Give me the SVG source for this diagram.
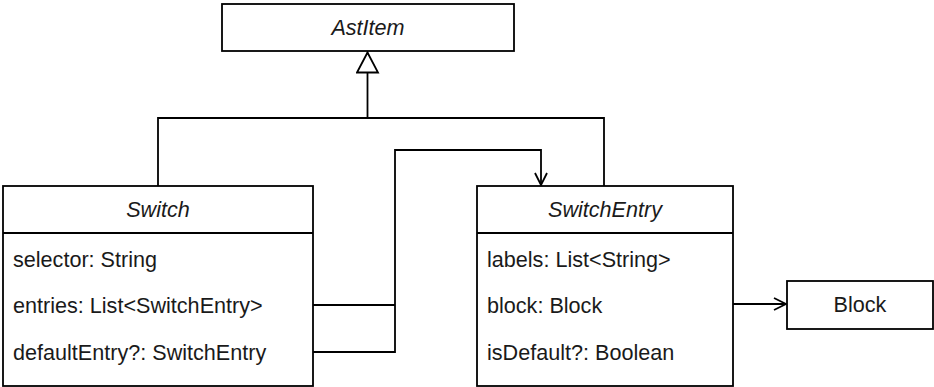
<svg xmlns="http://www.w3.org/2000/svg" width="934" height="387" viewBox="0 0 934 387">
  <style>
    .box { fill: #ffffff; stroke: #000000; stroke-width: 1.8; }
    .sep { stroke: #000000; stroke-width: 1.8; }
    .edge { fill: none; stroke: #000000; stroke-width: 1.8; }
    .title { font-family: "Liberation Sans", Arial, sans-serif; font-size: 21.6px; font-style: italic; fill: #1a1a1a; text-anchor: middle; }
    .attr { font-family: "Liberation Sans", Arial, sans-serif; font-size: 21.6px; fill: #1a1a1a; }
    .plain { font-family: "Liberation Sans", Arial, sans-serif; font-size: 21.6px; fill: #1a1a1a; text-anchor: middle; }
  </style>
  <defs>
    <marker id="inherit" viewBox="0 0 24 24" markerWidth="24" markerHeight="24" refX="21" refY="12" orient="auto" markerUnits="userSpaceOnUse">
      <path d="M1,1.5 L21,12 L1,22.5 Z" fill="#ffffff" stroke="#000000" stroke-width="1.8"/>
    </marker>
    <marker id="open" viewBox="0 0 16 16" markerWidth="16" markerHeight="16" refX="14" refY="8" orient="auto" markerUnits="userSpaceOnUse">
      <path d="M2,2 L14,8 L2,14" fill="none" stroke="#000000" stroke-width="1.8"/>
    </marker>
  </defs>

  <g id="connectors">
    <!-- generalisation: Switch and SwitchEntry extend AstItem -->
    <path class="edge" d="M158,186 V118 H604 V186"/>
    <path class="edge" d="M367.5,118 V52.5" marker-end="url(#inherit)"/>
    <!-- Switch.entries / Switch.defaultEntry reference SwitchEntry -->
    <path class="edge" d="M313,305 H395"/>
    <path class="edge" d="M313,352 H395 V150 H541 V185" marker-end="url(#open)"/>
    <!-- SwitchEntry.block references Block -->
    <path class="edge" d="M733,304 H786" marker-end="url(#open)"/>
  </g>

  <g id="AstItem">
    <rect class="box" x="222" y="4" width="292" height="47"/>
    <text class="title" x="368" y="35">AstItem</text>
  </g>

  <g id="Switch">
    <rect class="box" x="3" y="186" width="310" height="200"/>
    <line class="sep" x1="3" y1="233" x2="313" y2="233"/>
    <text class="title" x="158" y="217">Switch</text>
    <text class="attr" x="13" y="267">selector: String</text>
    <text class="attr" x="13" y="313">entries: List&lt;SwitchEntry&gt;</text>
    <text class="attr" x="13" y="360">defaultEntry?: SwitchEntry</text>
  </g>

  <g id="SwitchEntry">
    <rect class="box" x="477" y="186" width="256" height="200"/>
    <line class="sep" x1="477" y1="233" x2="733" y2="233"/>
    <text class="title" x="605" y="217">SwitchEntry</text>
    <text class="attr" x="487" y="267">labels: List&lt;String&gt;</text>
    <text class="attr" x="487" y="313">block: Block</text>
    <text class="attr" x="487" y="360">isDefault?: Boolean</text>
  </g>

  <g id="Block">
    <rect class="box" x="787" y="281" width="146" height="48"/>
    <text class="plain" x="860" y="312">Block</text>
  </g>
</svg>
